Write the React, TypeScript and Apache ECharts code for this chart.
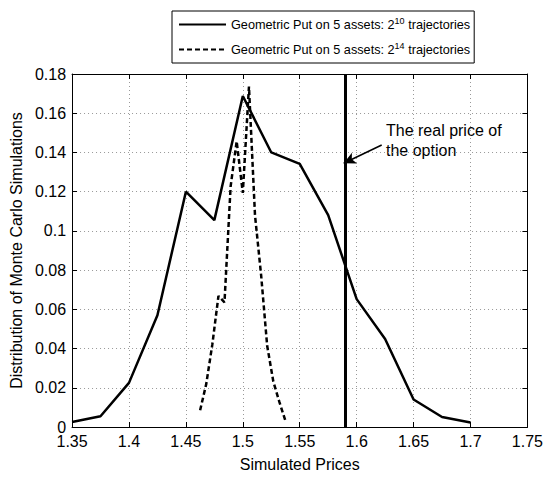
import React, { useEffect, useRef } from "react";
import * as echarts from "echarts";

const xTicks = [1.35, 1.75];
const yRange = [0, 0.18];

const solidName = "Geometric Put on 5 assets: 2^10 trajectories";
const dashedName = "Geometric Put on 5 assets: 2^14 trajectories";

const solidX = [1.35, 1.375, 1.4, 1.425, 1.45, 1.475, 1.5, 1.525, 1.55, 1.575, 1.6, 1.625, 1.65, 1.675, 1.7];
const solidY = [0.0025, 0.0055, 0.0225, 0.057, 0.12, 0.1055, 0.1688, 0.14, 0.1342, 0.108, 0.0652, 0.0449, 0.014, 0.0051, 0.0023];

const dashedX = [1.4625, 1.4679, 1.4732, 1.4786, 1.4839, 1.4893, 1.4946, 1.5, 1.5054, 1.5107, 1.5161, 1.5214, 1.5268, 1.5321, 1.5375];
const dashedY = [0.0085, 0.022, 0.042, 0.0668, 0.0636, 0.1227, 0.1457, 0.1194, 0.1736, 0.108, 0.0773, 0.0414, 0.0232, 0.0128, 0.003];

const realPrice = 1.5857;
const arrowFrom = [1.622, 0.1438];
const arrowTo = [1.5886, 0.1345];
const annotation = "The real price of\nthe option";

const FONT = "Liberation Sans";

export default function App() {
  const ref = useRef<HTMLDivElement>(null);
  useEffect(() => {
    const chart = echarts.init(ref.current!, null, { renderer: "svg" });
    const axisCommon = {
      type: "value",
      axisLine: { show: true, onZero: false, lineStyle: { color: "#000", width: 1 } },
      axisTick: { show: true, inside: true, length: 5, lineStyle: { color: "#000" } },
    };
    const option: any = {
      animation: false,
      backgroundColor: "#fff",
      textStyle: { fontFamily: FONT },
      grid: { left: 63, top: 74, width: 468, height: 365, containLabel: false },
      legend: {
        left: 172,
        top: 11,
        orient: "vertical",
        itemWidth: 47,
        itemHeight: 14,
        itemGap: 8,
        padding: [5, 4, 5, 6],
        borderColor: "#000",
        borderWidth: 1,
        backgroundColor: "#fff",
        data: [solidName, dashedName],
        itemStyle: { opacity: 0 },
        formatter: (name: string) => name.replace(/2\^(\d+)/, "2{sup|$1}"),
        textStyle: {
          fontFamily: FONT,
          fontSize: 12.7,
          lineHeight: 17,
          color: "#000",
          rich: {
            sup: { fontSize: 9, verticalAlign: "top", lineHeight: 9, fontFamily: FONT, color: "#000" },
          },
        },
      },
      xAxis: [
        {
          ...axisCommon,
          min: xTicks[0],
          max: xTicks[1],
          interval: 0.05,
          position: "bottom",
          name: "Simulated Prices",
          nameLocation: "middle",
          nameGap: 29,
          nameTextStyle: { fontFamily: FONT, fontSize: 16, color: "#000" },
          axisLabel: { color: "#000", fontSize: 16, lineHeight: 12, fontFamily: FONT, margin: 8 },
          splitLine: { show: true, lineStyle: { color: "#999", type: [1, 3], width: 1 } },
        },
        {
          ...axisCommon,
          min: xTicks[0],
          max: xTicks[1],
          interval: 0.05,
          position: "top",
          axisLabel: { show: false },
          splitLine: { show: false },
        },
      ],
      yAxis: [
        {
          ...axisCommon,
          min: yRange[0],
          max: yRange[1],
          interval: 0.02,
          position: "left",
          name: "Distribution of Monte Carlo Simulations",
          nameLocation: "middle",
          nameGap: 34,
          nameTextStyle: { fontFamily: FONT, fontSize: 16, color: "#000" },
          axisLabel: { color: "#000", fontSize: 16, lineHeight: 12, fontFamily: FONT, margin: 6 },
          splitLine: { show: true, lineStyle: { color: "#999", type: [1, 3], width: 1 } },
        },
        {
          ...axisCommon,
          min: yRange[0],
          max: yRange[1],
          interval: 0.02,
          position: "right",
          axisLabel: { show: false },
          splitLine: { show: false },
        },
      ],
      series: [
        {
          name: solidName,
          type: "line",
          symbol: "none",
          data: solidX.map((x, i) => [x, solidY[i]]),
          lineStyle: { color: "#000", width: 2.5, type: "solid" },
          itemStyle: { color: "#000" },
          markLine: {
            silent: true,
            symbol: ["none", "none"],
            label: { show: false },
            lineStyle: { color: "#000", width: 3, type: "solid" },
            data: [{ xAxis: realPrice }],
          },
        },
        {
          name: dashedName,
          type: "line",
          symbol: "none",
          data: dashedX.map((x, i) => [x, dashedY[i]]),
          lineStyle: { color: "#000", width: 2.5, type: [5, 3] },
          itemStyle: { color: "#000" },
          markLine: {
            silent: true,
            symbol: ["none", "arrow"],
            symbolSize: [9, 12],
            label: { show: false },
            lineStyle: { color: "#000", width: 1.5, type: "solid" },
            data: [[{ coord: arrowFrom }, { coord: arrowTo }]],
          },
        },
      ],
      graphic: [
        {
          type: "text",
          left: 386,
          top: 120,
          style: { text: annotation, fontFamily: FONT, fontSize: 16, lineHeight: 20, fill: "#000" },
        },
      ],
    };
    chart.setOption(option);
    return () => chart.dispose();
  }, []);
  return <div ref={ref} style={{ position: "fixed", left: 0, top: 0, width: 546, height: 477, background: "#fff" }} />;
}
